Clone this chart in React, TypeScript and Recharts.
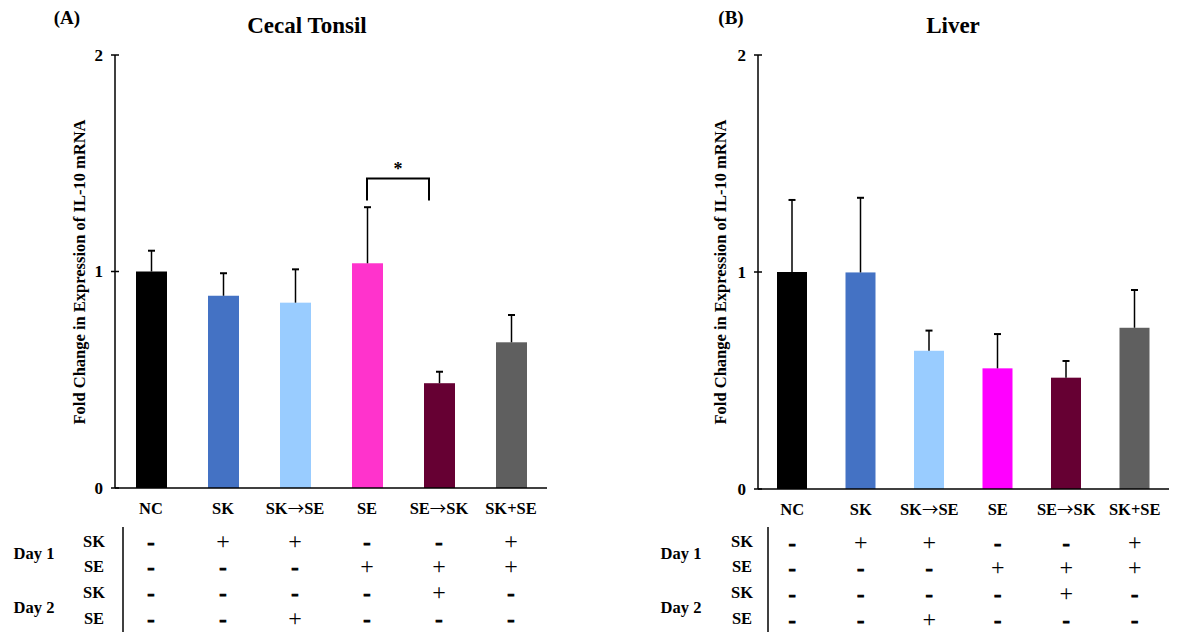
import { BarChart, Bar, Cell, XAxis, YAxis, ReferenceLine } from 'recharts';

const groups = ['NC', 'SK', 'SK→SE', 'SE', 'SE→SK', 'SK+SE'];

const cecalMeans = [1.0, 0.888, 0.856, 1.038, 0.484, 0.673];
const cecalErrors = [0.096, 0.104, 0.154, 0.259, 0.053, 0.126];
const liverMeans = [1.0, 0.998, 0.637, 0.556, 0.513, 0.743];
const liverErrors = [0.332, 0.344, 0.093, 0.158, 0.077, 0.174];

const cecalColors = ['#000000', '#4472C4', '#99CCFF', '#FF33CC', '#660033', '#5F5F5F'];
const liverColors = ['#000000', '#4472C4', '#99CCFF', '#FF00FF', '#660033', '#5F5F5F'];

// treatment table under the bars
const day1SK = ['-', '+', '+', '-', '-', '+'];
const day1SE = ['-', '-', '-', '+', '+', '+'];
const day2SK = ['-', '-', '-', '-', '+', '-'];
const day2SE = ['-', '-', '+', '-', '-', '-'];
const tableRows = [day1SK, day1SE, day2SK, day2SE];

const yTicks = [0, 1, 2];

const FONT = "'Liberation Serif', 'Times New Roman', serif";

const cecalData = groups.map((g, i) => ({ group: g, value: cecalMeans[i], err: cecalErrors[i] }));
const liverData = groups.map((g, i) => ({ group: g, value: liverMeans[i], err: liverErrors[i] }));

const rowOffsets = [53, 78, 104, 130];

const BarWithError = (props: any) => {
  const { x, y, width, height, fill, payload } = props;
  const unit = height / payload.value;
  const top = y - payload.err * unit;
  const cx = x + width / 2;
  return (
    <g>
      <rect x={x} y={y} width={width} height={height} fill={fill} />
      <line x1={cx} y1={y} x2={cx} y2={top} stroke="#000" strokeWidth={1.5} />
      <line x1={cx - 3.5} y1={top} x2={cx + 3.5} y2={top} stroke="#000" strokeWidth={2} />
    </g>
  );
};

const GroupLabel = ({ text }: { text: string }) => {
  const parts = text.split('→');
  if (parts.length < 2) return <>{text}</>;
  return (
    <>
      {parts[0]}
      <tspan fontFamily="'Noto Sans CJK JP', 'DejaVu Sans', sans-serif" fontWeight="normal">→</tspan>
      {parts[1]}
    </>
  );
};

const GroupTick = (props: any) => {
  const { x, y, payload } = props;
  const idx = groups.indexOf(payload.value);
  return (
    <g fontFamily={FONT}>
      <text x={x} y={y + 20} textAnchor="middle" dominantBaseline="central" fontSize={16.5} fontWeight="bold" fill="#000">
        <GroupLabel text={payload.value} />
      </text>
      {tableRows.map((row, r) =>
        row[idx] === '+' ? (
          <text key={r} x={x} y={y + rowOffsets[r]} textAnchor="middle" dominantBaseline="central" fontSize={24} fill="#000">
            +
          </text>
        ) : (
          <text
            key={r}
            x={x}
            y={y + rowOffsets[r]}
            textAnchor="middle"
            dominantBaseline="central"
            fontSize={22}
            fontWeight="bold"
            fill="#000"
            stroke="#000"
            strokeWidth={0.9}
          >
            -
          </text>
        )
      )}
    </g>
  );
};

const ValueTick = (props: any) => {
  const { x, y, payload } = props;
  return (
    <g>
      <line x1={x - 4} x2={x + 4} y1={y} y2={y} stroke="#000" strokeWidth={1.5} />
      <text x={x - 12} y={y} textAnchor="end" dominantBaseline="central" fontFamily={FONT} fontSize={17} fontWeight="bold" fill="#000">
        {payload.value}
      </text>
    </g>
  );
};

const Bracket = (p: any) => {
  const { x1, y1, x2 } = p;
  const xr = x2 - 10;
  return (
    <g>
      <path d={`M${x1},${y1 + 22}V${y1}H${xr}V${y1 + 22}`} fill="none" stroke="#000" strokeWidth={2} />
      <text x={(x1 + xr) / 2} y={y1 - 3} textAnchor="middle" fontFamily={FONT} fontSize={18} fontWeight="bold" fill="#000">
        *
      </text>
    </g>
  );
};

function Panel({ data, colors, width, left, barSize, margin, xHeight, bracket }: any) {
  return (
    <div style={{ position: 'absolute', left, top: 0 }}>
      <BarChart width={width} height={632} data={data} margin={margin}>
        <XAxis
          dataKey="group"
          height={xHeight}
          axisLine={{ stroke: '#000', strokeWidth: 1.5 }}
          tickLine={false}
          tickSize={0}
          tickMargin={0}
          interval={0}
          tick={<GroupTick />}
        />
        <YAxis
          width={40}
          domain={[0, 2]}
          ticks={yTicks}
          axisLine={{ stroke: '#000', strokeWidth: 1.5 }}
          tickLine={false}
          tickSize={0}
          tickMargin={0}
          tick={<ValueTick />}
        />
        <Bar dataKey="value" barSize={barSize} shape={<BarWithError />} isAnimationActive={false}>
          {data.map((d: any, i: number) => (
            <Cell key={d.group} fill={colors[i]} />
          ))}
        </Bar>
        {bracket && (
          <ReferenceLine
            segment={[
              { x: 'SE', y: 1.43 },
              { x: 'SE→SK', y: 1.43 },
            ]}
            shape={<Bracket />}
          />
        )}
      </BarChart>
    </div>
  );
}

function TableLabels({ dayX, rowX, lineX }: any) {
  return (
    <g fontFamily={FONT} fontWeight="bold" fontSize={16.5} fill="#000">
      <text x={dayX} y={553} textAnchor="middle" dominantBaseline="central">Day 1</text>
      <text x={dayX} y={607} textAnchor="middle" dominantBaseline="central">Day 2</text>
      <text x={rowX} y={541} textAnchor="middle" dominantBaseline="central">SK</text>
      <text x={rowX} y={566} textAnchor="middle" dominantBaseline="central">SE</text>
      <text x={rowX} y={592} textAnchor="middle" dominantBaseline="central">SK</text>
      <text x={rowX} y={618} textAnchor="middle" dominantBaseline="central">SE</text>
      <line x1={lineX} x2={lineX} y1={527} y2={632} stroke="#000" strokeWidth={1.5} />
    </g>
  );
}

export default function App() {
  const yLabel = 'Fold Change in Expression of IL-10 mRNA';
  return (
    <div style={{ position: 'absolute', left: 0, top: 0, width: 1188, height: 632, background: '#fff', overflow: 'hidden' }}>
      <Panel
        data={cecalData}
        colors={cecalColors}
        width={600}
        left={0}
        barSize={31}
        margin={{ top: 55, right: 53, left: 75, bottom: 0 }}
        xHeight={144}
        bracket
      />
      <Panel
        data={liverData}
        colors={liverColors}
        width={548}
        left={640}
        barSize={30}
        margin={{ top: 55, right: 19, left: 78, bottom: 0 }}
        xHeight={143}
      />
      <svg width={1188} height={632} style={{ position: 'absolute', left: 0, top: 0, pointerEvents: 'none' }}>
        <g fontFamily={FONT} fontWeight="bold" fill="#000">
          <text x={67} y={24} textAnchor="middle" fontSize={19}>(A)</text>
          <text x={307} y={33} textAnchor="middle" fontSize={23}>Cecal Tonsil</text>
          <text x={731} y={24} textAnchor="middle" fontSize={19}>(B)</text>
          <text x={953} y={33} textAnchor="middle" fontSize={23}>Liver</text>
          <text transform="translate(85,272) rotate(-90)" textAnchor="middle" fontSize={16.5}>{yLabel}</text>
          <text transform="translate(726,272) rotate(-90)" textAnchor="middle" fontSize={16.5}>{yLabel}</text>
        </g>
        <TableLabels dayX={34} rowX={94} lineX={123} />
        <TableLabels dayX={681} rowX={742} lineX={768} />
      </svg>
    </div>
  );
}
